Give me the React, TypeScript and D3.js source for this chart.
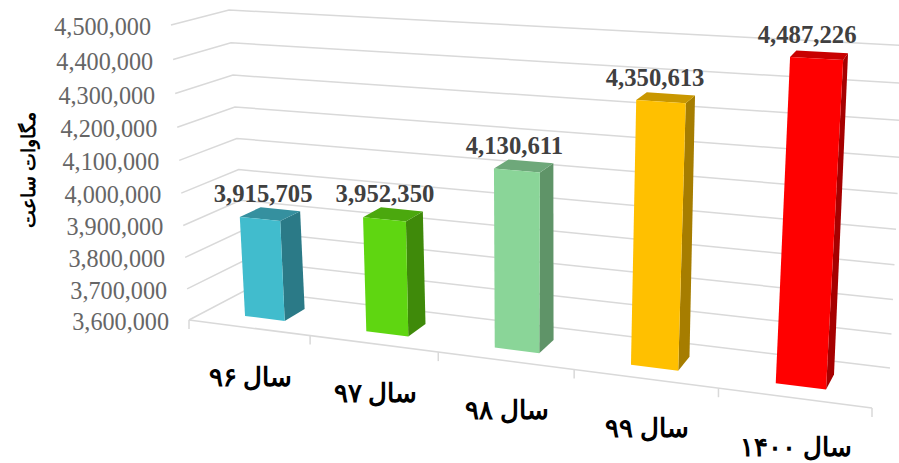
import React from "react";
import * as d3 from "d3";

const categories = ["سال ۹۶", "سال ۹۷", "سال ۹۸", "سال ۹۹", "سال ۱۴۰۰"];
const values = [3915705, 3952350, 4130611, 4350613, 4487226];
const axisTicks = [3600000, 3700000, 3800000, 3900000, 4000000, 4100000, 4200000, 4300000, 4400000, 4500000];
const frontColors = ["#41bccd", "#5fd611", "#8ad598", "#ffc000", "#ff0000"];
const sideColors = ["#2b7a87", "#3f8a0a", "#5f9468", "#a67d00", "#a60000"];
const topColors = ["#35909f", "#4ba80e", "#6ea87a", "#c99700", "#c80000"];
const axisTitle = "مگاوات ساعت";

const W = 899, H = 463;
const tScale = d3.scaleLinear().domain([3600000, 4500000]).range([0, 1]);
const cat = d3.scaleLinear().domain([0, categories.length]).range([0, 1]);
const fmt = d3.format(",");
const warp = (u: number, k: number) => u / (u + k * (1 - u));

// projected box corners: [front/back][left/right] at bottom and top of the value axis
type P = [number, number];
const FL0: P = [189, 320], FR0: P = [872, 408], BL0: P = [246, 290], BR0: P = [890, 368];
const FL1: P = [171, 25], FR1: P = [895, 63], BL1: P = [229, 10], BR1: P = [904, 45.5];
const mix = (a: P, b: P, f: number): P => [a[0] + (b[0] - a[0]) * f, a[1] + (b[1] - a[1]) * f];
const project = (u: number, v: number, t: number): P => {
  const s = warp(u, 1.16);
  const bottom = mix(mix(FL0, FR0, s), mix(BL0, BR0, s), v);
  const top = mix(mix(FL1, FR1, s), mix(BL1, BR1, s), v);
  return mix(bottom, top, warp(t, 1.06));
};
const line = d3.line<P>();
const poly = (pts: P[]) => line(pts)! + "Z";

const SERIF = "'Liberation Serif', serif";
const V0 = 0.3, V1 = 0.68;

export default function App() {
  return (
    <svg width={W} height={H} viewBox={`0 0 ${W} ${H}`} style={{ position: "absolute", left: 0, top: 0, background: "#fff" }}>
      {axisTicks.map((tick) => {
        const t = tScale(tick);
        return (
          <path key={tick} fill="none" stroke="#d9d9d9" strokeWidth={1.5}
            d={line([project(0, 0, t), project(0, 1, t), project(1, 1, t)])!} />
        );
      })}
      <path fill="none" stroke="#d9d9d9" strokeWidth={1.5} d={line([project(0, 0, 0), project(1, 0, 0)])!} />
      {d3.range(categories.length + 1).map((i) => {
        const p = project(cat(i), 0, 0);
        return <path key={i} stroke="#d9d9d9" strokeWidth={1.5} d={line([p, [p[0], p[1] + 9]])!} />;
      })}
      {axisTicks.map((tick) => {
        const p = project(0, 0, tScale(tick));
        return (
          <text key={tick} x={p[0] - 20} y={p[1] + 1.5} textAnchor="end" dominantBaseline="central"
            fontFamily={SERIF} fontSize={24.2} fill="#666666">{fmt(tick)}</text>
        );
      })}
      {values.map((val, i) => {
        const t = tScale(val);
        const u0 = cat(i + 1 / 3), u1 = cat(i + 2 / 3);
        const uc = cat(i + 0.5);
        const c = project(uc, 0.5, t);
        return (
          <g key={i}>
            <path fill={sideColors[i]} d={poly([project(u1, V0, 0), project(u1, V1, 0), project(u1, V1, t), project(u1, V0, t)])} />
            <path fill={topColors[i]} d={poly([project(u0, V0, t), project(u1, V0, t), project(u1, V1, t), project(u0, V1, t)])} />
            <path fill={frontColors[i]} d={poly([project(u0, V0, 0), project(u1, V0, 0), project(u1, V0, t), project(u0, V0, t)])} />
            <text x={c[0] - 7 - 6 * warp(uc, 1.16)} y={c[1] - 20.5} textAnchor="middle" dominantBaseline="central"
              fontFamily={SERIF} fontWeight="bold" fontSize={24.7} fill="#404040">{fmt(val)}</text>
          </g>
        );
      })}
      {categories.map((c, i) => {
        const p = project(cat(i + 0.5), 0, 0);
        return (
          <text key={c} x={p[0] + 2} y={p[1] + 50} textAnchor="middle" dominantBaseline="central"
            direction="rtl" fontFamily={SERIF} fontWeight="bold" fontSize={26} fill="#000">{c}</text>
        );
      })}
      <text transform="translate(28,170) rotate(-90)" textAnchor="middle" dominantBaseline="central"
        direction="rtl" fontFamily={SERIF} fontWeight="bold" fontSize={19} fill="#000">{axisTitle}</text>
    </svg>
  );
}
